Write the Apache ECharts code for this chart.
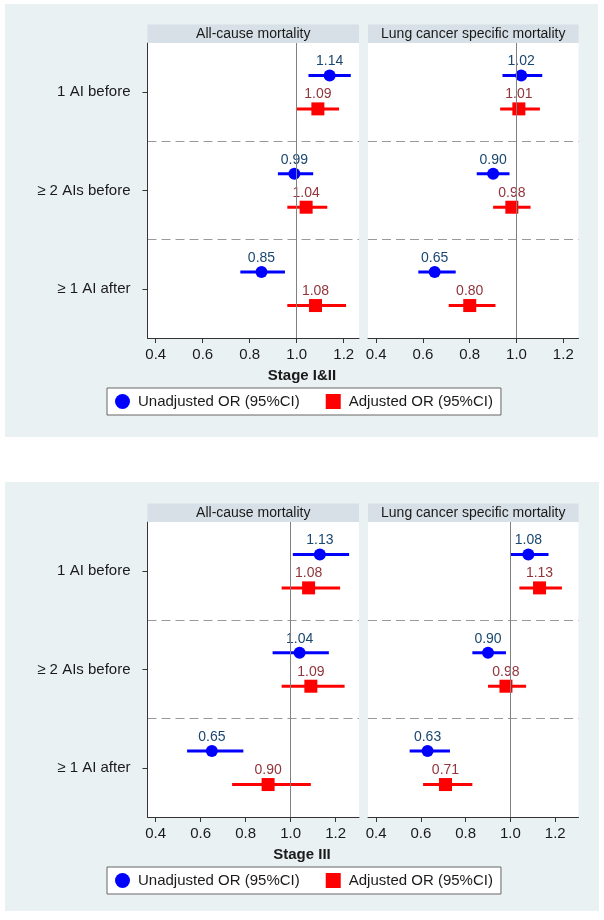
<!DOCTYPE html>
<html>
<head>
<meta charset="utf-8">
<script src="https://cdn.jsdelivr.net/npm/echarts@6/dist/echarts.min.js"></script>
<style>
  body { margin: 0; background: #fff; }
  #main { width: 604px; height: 920px; }
</style>
</head>
<body>
<div id="main"></div>
<script>
  // categories (top to bottom)
  var categories = ['1 AI before', '\u2265 2 AIs before', '\u2265 1 AI after'];
  var panelTitles = ['All-cause mortality', 'Lung cancer specific mortality'];
  var stageTitles = ['Stage I&II', 'Stage III'];
  var tickValues = [0.4, 0.6, 0.8, 1.0, 1.2];

  // Stage I&II, all-cause
  var s12AllUnadj = [1.14, 0.99, 0.85];
  var s12AllUnadjLo = [1.05, 0.92, 0.76];
  var s12AllUnadjHi = [1.23, 1.07, 0.95];
  var s12AllAdj = [1.09, 1.04, 1.08];
  var s12AllAdjLo = [1.00, 0.96, 0.96];
  var s12AllAdjHi = [1.18, 1.13, 1.21];
  // Stage I&II, lung cancer specific
  var s12LungUnadj = [1.02, 0.90, 0.65];
  var s12LungUnadjLo = [0.94, 0.83, 0.58];
  var s12LungUnadjHi = [1.11, 0.97, 0.74];
  var s12LungAdj = [1.01, 0.98, 0.80];
  var s12LungAdjLo = [0.93, 0.90, 0.71];
  var s12LungAdjHi = [1.10, 1.06, 0.91];
  // Stage III, all-cause
  var s3AllUnadj = [1.13, 1.04, 0.65];
  var s3AllUnadjLo = [1.01, 0.92, 0.54];
  var s3AllUnadjHi = [1.26, 1.17, 0.79];
  var s3AllAdj = [1.08, 1.09, 0.90];
  var s3AllAdjLo = [0.96, 0.96, 0.74];
  var s3AllAdjHi = [1.22, 1.24, 1.09];
  // Stage III, lung cancer specific
  var s3LungUnadj = [1.08, 0.90, 0.63];
  var s3LungUnadjLo = [1.00, 0.83, 0.55];
  var s3LungUnadjHi = [1.17, 0.98, 0.73];
  var s3LungAdj = [1.13, 0.98, 0.71];
  var s3LungAdjLo = [1.04, 0.90, 0.61];
  var s3LungAdjHi = [1.23, 1.07, 0.83];

  var panels = [
    { unadj: [s12AllUnadj, s12AllUnadjLo, s12AllUnadjHi], adj: [s12AllAdj, s12AllAdjLo, s12AllAdjHi] },
    { unadj: [s12LungUnadj, s12LungUnadjLo, s12LungUnadjHi], adj: [s12LungAdj, s12LungAdjLo, s12LungAdjHi] },
    { unadj: [s3AllUnadj, s3AllUnadjLo, s3AllUnadjHi], adj: [s3AllAdj, s3AllAdjLo, s3AllAdjHi] },
    { unadj: [s3LungUnadj, s3LungUnadjLo, s3LungUnadjHi], adj: [s3LungAdj, s3LungAdjLo, s3LungAdjHi] }
  ];

  var FONT = '"Liberation Sans", Arial, sans-serif';
  var TXT = '#1a1a1a';
  var BG = '#eaf1f3';
  var STRIP = '#d6e0e6';
  var UNADJ = 'Unadjusted OR (95%CI)';
  var ADJ = 'Adjusted OR (95%CI)';

  var grids = [
    { left: 147.5, top: 43, width: 211.5, height: 295 },
    { left: 368, top: 43, width: 210.5, height: 295 },
    { left: 147.5, top: 522, width: 211.5, height: 295 },
    { left: 368, top: 522, width: 210.5, height: 295 }
  ];
  // x range differs between the two figures
  var xRange = [[0.365, 1.265], [0.365, 1.265], [0.364, 1.304], [0.364, 1.304]];

  // y position: category centre +/- a small shift
  function yPos(i, shift) { return 2.5 - i + shift; }

  var xAxes = [], yAxes = [], series = [];
  grids.forEach(function (g, p) {
    g.show = true;
    g.backgroundColor = '#fff';
    g.borderWidth = 0;
    xAxes.push({
      type: 'value', gridIndex: p, min: xRange[p][0], max: xRange[p][1],
      axisLine: { show: true, lineStyle: { color: '#333', width: 1 } },
      axisTick: { show: true, length: 5, customValues: tickValues, lineStyle: { color: '#333' } },
      axisLabel: { customValues: tickValues, margin: 9, fontSize: 15, color: TXT, fontFamily: FONT,
        formatter: function (v) { return v.toFixed(1); } },
      splitLine: { show: false }
    });
    yAxes.push({
      type: 'value', gridIndex: p, min: 0, max: 3, interval: 1,
      axisLine: { show: p % 2 === 0, lineStyle: { color: '#333', width: 1 } },
      axisTick: { show: false },
      axisLabel: { show: false },
      splitLine: { show: true, showMinLine: false, showMaxLine: false,
        lineStyle: { color: '#9a9a9a', width: 1, type: [9, 5] } }
    });
  });
  // category label axes for the left panels
  [0, 2].forEach(function (p) {
    yAxes.push({
      type: 'category', gridIndex: p, data: categories, inverse: true, position: 'left',
      boundaryGap: true,
      axisLine: { show: false },
      axisTick: { show: true, alignWithLabel: true, length: 5, lineStyle: { color: '#333' } },
      axisLabel: { fontSize: 15, color: TXT, fontFamily: FONT, margin: 17 },
      splitLine: { show: false }
    });
  });

  function ciSeries(p, arr, shift, color, name) {
    return {
      type: 'custom', name: name, xAxisIndex: p, yAxisIndex: p, z: 3,
      encode: { x: [0, 1], y: 2 },
      data: arr[0].map(function (v, i) { return [arr[1][i], arr[2][i], yPos(i, shift)]; }),
      renderItem: function (params, api) {
        var a = api.coord([api.value(0), api.value(2)]);
        var b = api.coord([api.value(1), api.value(2)]);
        return { type: 'line', shape: { x1: a[0], y1: a[1], x2: b[0], y2: b[1] },
          style: { stroke: color, lineWidth: 3 } };
      }
    };
  }
  function pointSeries(p, arr, shift, color, labelColor, symbol, size, name) {
    return {
      type: 'scatter', name: name, xAxisIndex: p, yAxisIndex: p, z: 4,
      symbol: symbol, symbolSize: size,
      itemStyle: { color: color, opacity: 1 },
      label: { show: true, position: 'top', distance: 1, fontSize: 14, fontFamily: FONT, color: labelColor,
        formatter: function (d) { return d.value[0].toFixed(2); } },
      data: arr[0].map(function (v, i) { return [v, yPos(i, shift)]; })
    };
  }

  panels.forEach(function (pn, p) {
    // reference line at OR = 1
    series.push({
      type: 'line', xAxisIndex: p, yAxisIndex: p, data: [], z: 2, silent: true,
      markLine: { silent: true, symbol: 'none', label: { show: false },
        lineStyle: { color: '#808080', width: 1, type: 'solid' }, data: [{ xAxis: 1 }] }
    });
    series.push(ciSeries(p, pn.unadj, 0.17, '#0000ff', 'ci-u' + p));
    series.push(ciSeries(p, pn.adj, -0.17, '#ff0000', 'ci-a' + p));
    series.push(pointSeries(p, pn.unadj, 0.17, '#0000ff', '#1a476f', 'circle', 12, UNADJ));
    series.push(pointSeries(p, pn.adj, -0.17, '#ff0000', '#90353b', 'rect', 13, ADJ));
  });

  function makeLegend(top) {
    return {
      left: 107, top: top, orient: 'horizontal',
      itemWidth: 15, itemHeight: 15, itemGap: 26,
      padding: [6, 8], backgroundColor: '#fff', borderColor: '#666', borderWidth: 1,
      selectedMode: false,
      textStyle: { fontSize: 15, color: TXT, fontFamily: FONT, padding: [0, 0, 0, 3] },
      data: [
        { name: UNADJ, icon: 'circle', itemStyle: { color: '#0000ff' } },
        { name: ADJ, icon: 'rect', itemStyle: { color: '#ff0000' } }
      ]
    };
  }

  // panel strips, background boxes, stage titles
  var graphics = [
    { type: 'rect', z: -10, shape: { x: 5, y: 4, width: 593, height: 433 }, style: { fill: BG } },
    { type: 'rect', z: -10, shape: { x: 5, y: 482, width: 594, height: 429 }, style: { fill: BG } }
  ];
  grids.forEach(function (g, p) {
    graphics.push({
      type: 'rect', z: 5, shape: { x: g.left, y: g.top - 18.5, width: g.width, height: 18.5 },
      style: { fill: STRIP }
    });
    graphics.push({
      type: 'text', z: 6, x: g.left + g.width / 2, y: g.top - 9,
      style: { text: panelTitles[p % 2], fontSize: 14, fontFamily: FONT, fill: TXT,
        align: 'center', verticalAlign: 'middle' }
    });
  });
  graphics.push({ type: 'text', z: 5, x: 302, y: 376, style: { text: stageTitles[0], fontSize: 15, fontWeight: 'bold',
    fontFamily: FONT, fill: TXT, align: 'center', verticalAlign: 'middle' } });
  graphics.push({ type: 'text', z: 5, x: 302, y: 855, style: { text: stageTitles[1], fontSize: 15, fontWeight: 'bold',
    fontFamily: FONT, fill: TXT, align: 'center', verticalAlign: 'middle' } });

  var myChart = echarts.init(document.getElementById('main'));
  myChart.setOption({
    backgroundColor: '#fff',
    animation: false,
    textStyle: { fontFamily: FONT },
    grid: grids,
    xAxis: xAxes,
    yAxis: yAxes,
    legend: [makeLegend(388), makeLegend(867)],
    graphic: graphics,
    series: series
  });
</script>
</body>
</html>
